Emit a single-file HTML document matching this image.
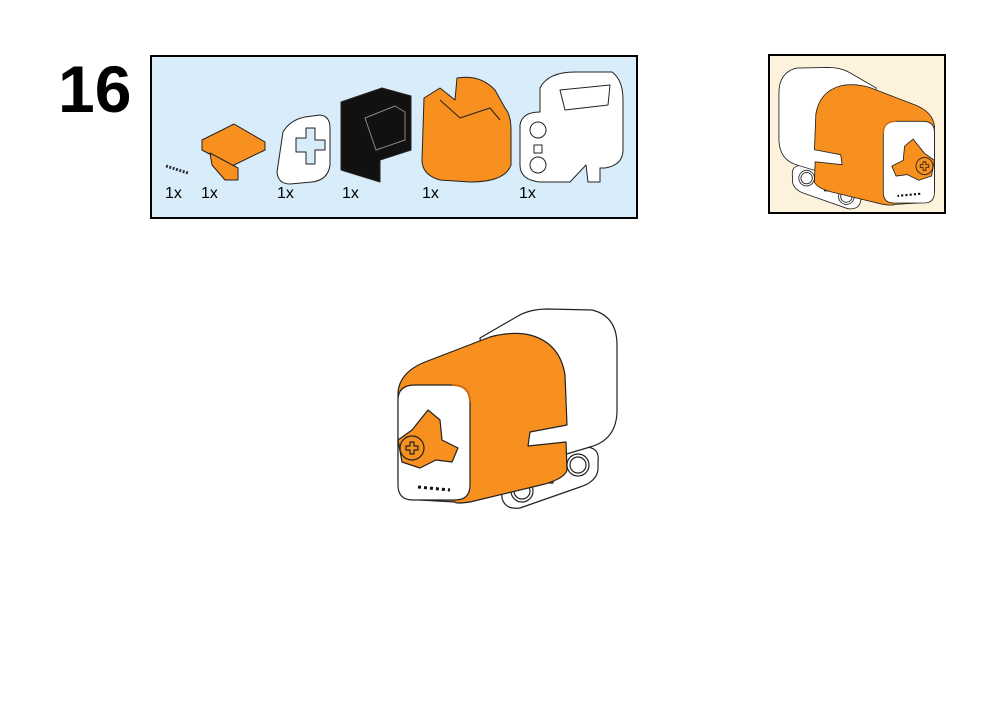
<!DOCTYPE html>
<html><head><style>
body{margin:0;background:#fff;}
svg{display:block;}
text{font-family:"Liberation Sans",sans-serif;}
</style></head><body>
<svg width="1001" height="708" viewBox="0 0 1001 708" xmlns="http://www.w3.org/2000/svg">
<defs>
<g id="model" stroke="#222" stroke-width="1.2" stroke-linejoin="round">
  <path d="M500 470 L585 447 Q600 447 598 462 L598 470 Q596 482 580 487 L520 508 Q505 510 502 498 Z" fill="#fff"/>
  <circle cx="522" cy="491" r="11" fill="#fff"/><circle cx="522" cy="491" r="8" fill="#fff"/>
  <circle cx="578" cy="465" r="11" fill="#fff"/><circle cx="578" cy="465" r="8" fill="#fff"/>
  <path d="M544 474 h4 v-4 h5 v4 h4 v5 h-4 v4 h-5 v-4 h-4 Z" fill="#fff"/>
  <path d="M480 338 L518 316 Q530 309 548 309 L592 310 Q617 316 617 345 L617 412 Q616 440 590 447 L540 462 L500 480 Z" fill="#fff"/>
  <path d="M398 392 Q400 372 425 362 L490 337 Q512 331 530 335 Q560 343 565 375 L567 425 L530 432 L528 446 L566 442 L567 470 Q565 478 545 484 L470 502 Q455 504 455 502 L420 500 Q398 498 398 480 Z" fill="#f7901e"/>
  <path d="M398 400 Q398 385 415 385 L452 385 Q470 385 470 402 L470 485 Q470 500 455 500 L413 500 Q398 500 398 485 Z" fill="#fff"/>
  <path d="M470 402 Q470 385 452 385" fill="none" stroke="#c86f10" stroke-width="2"/>
  <path d="M412 430 L428 410 L440 420 L442 440 L458 448 L452 462 L436 460 L420 468 L402 462 L398 440 Z" fill="#f7901e"/>
  <circle cx="412" cy="448" r="12" fill="#f7901e"/>
  <path d="M406 446 h4 v-4 h4 v4 h4 v4 h-4 v4 h-4 v-4 h-4 Z" fill="#f7901e"/>
  <line x1="418" y1="487" x2="450" y2="490" stroke="#111" stroke-width="3" stroke-dasharray="3 3"/>
</g>
</defs>

<text x="58" y="112" font-size="66" font-weight="bold" fill="#000">16</text>

<rect x="151" y="56" width="486" height="162" fill="#d8ecfa" stroke="#000" stroke-width="2"/>
<g stroke="#222" stroke-width="1" stroke-linejoin="round">
  <line x1="166" y1="166" x2="188" y2="173" stroke="#333" stroke-width="3" stroke-dasharray="2 1.5"/>
  <path d="M202 140 L234 124 L265 142 L265 150 L232 166 L202 150 Z" fill="#f7901e"/>
  <path d="M210 153 L238 168 L238 180 L225 180 L212 165 Z" fill="#f7901e"/>
  <path d="M283 132 Q290 120 305 117 L320 115 Q330 116 330 128 L330 165 Q328 180 312 182 L290 184 Q278 184 277 172 Z" fill="#fff"/>
  <path d="M296 138 h10 v-10 h9 v12 h10 v10 h-10 v14 h-9 v-12 h-10 Z" fill="#d8ecfa"/>
  <path d="M341 102 L382 88 L411 96 L411 150 L380 160 L380 182 L341 170 Z" fill="#111"/>
  <path d="M365 118 L395 106 L405 112 L405 140 L376 150 Z" fill="none" stroke="#888"/>
  <path d="M424 98 L440 88 L455 100 L457 78 Q480 74 495 90 L505 108 Q511 115 511 130 L511 165 Q505 182 470 182 L440 180 Q422 175 422 160 Z" fill="#f7901e"/>
  <path d="M440 100 L460 118 L490 108 L500 120" fill="none"/>
  <path d="M540 88 Q548 72 575 72 L612 72 Q623 80 623 100 L623 150 Q623 165 605 168 L600 168 L600 182 L588 182 L586 165 L570 182 L540 182 Q520 180 520 165 L520 125 Q522 112 540 112 Z" fill="#fff"/>
  <path d="M560 90 L610 85 L608 105 L565 110 Z" fill="#fff"/>
  <circle cx="538" cy="130" r="8" fill="#fff"/><circle cx="538" cy="165" r="8" fill="#fff"/>
  <path d="M534 145 h8 v8 h-8 Z" fill="#fff"/>
</g>
<g font-size="16" fill="#000">
  <text x="165" y="198">1x</text><text x="201" y="198">1x</text><text x="277" y="198">1x</text>
  <text x="342" y="198">1x</text><text x="422" y="198">1x</text><text x="519" y="198">1x</text>
</g>

<rect x="769" y="55" width="176" height="158" fill="#fdf3dc" stroke="#000" stroke-width="2"/>
<use href="#model" transform="translate(1217,-152) scale(-0.71,0.71)"/>

<use href="#model"/>
</svg>
</body></html>
